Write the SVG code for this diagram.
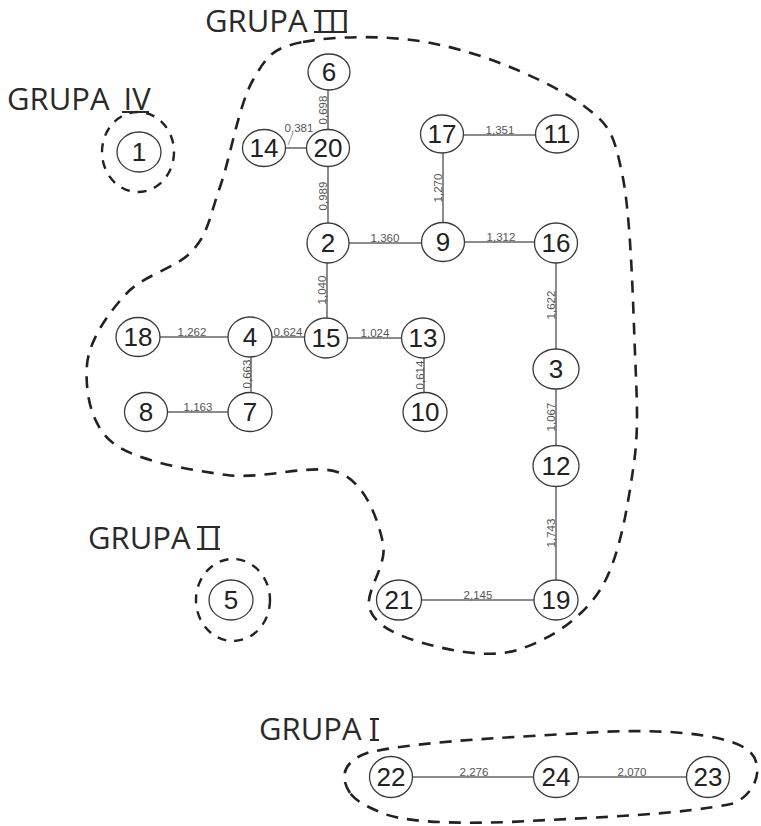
<svg xmlns="http://www.w3.org/2000/svg" width="761" height="826" viewBox="0 0 761 826">
<style>
.n ellipse{fill:#fff;stroke:#3a3a3a;stroke-width:1.3}
.n text{font-family:"Liberation Sans",Arial,sans-serif;font-size:26px;fill:#222;text-anchor:middle}
.e line{stroke:#666;stroke-width:1.5}
.e text{font-family:"Liberation Sans",Arial,sans-serif;font-size:11.5px;fill:#555;text-anchor:middle}
.g{fill:none;stroke:#222;stroke-width:2.6;stroke-dasharray:12 9}
.gs{fill:none;stroke:#222;stroke-width:2.4;stroke-dasharray:9 8}
.lbl{font-family:"Open Sans","DejaVu Sans",sans-serif;font-size:31px;fill:#2a2a2a}
.bar{stroke:#2a2a2a;stroke-width:2}
</style>
<rect width="761" height="826" fill="#fff"/>
<g id="groups">
<path class="g" d="M303,42 C334,36 394,34 440,45 C486,54 550,82 580,103 C610,125 613,131 622,173 C631,215 633,304 635,353 C637,403 639,431 633,470 C627,510 619,560 600,590 C581,620 547,641 517,650 C488,659 448,650 423,643 C399,636 377,627 370,610 C363,593 388,566 383,543 C378,520 366,484 340,473 C314,462 265,480 227,475 C189,470 136,461 113,443 C90,425 85,390 87,365 C89,340 109,312 127,293 C145,274 178,268 193,250 C209,232 210,215 220,187 C230,159 239,104 253,80 C267,56 272,48 303,42 Z"/>
<path class="g" d="M350,793 C338,775 345,760 370,752 C430,740 520,737 600,732 C660,729 720,733 745,748 C765,760 760,790 735,803 C680,815 600,817 510,822 C450,824 400,822 380,812 C365,806 355,800 350,793 Z"/>
<ellipse class="gs" cx="138" cy="152" rx="36" ry="40"/>
<ellipse class="gs" cx="233" cy="600" rx="37" ry="41"/>
</g>
<g id="labels">
<text class="lbl" x="205" y="32">GRUPA <tspan letter-spacing="4">III</tspan></text>
<line class="bar" x1="314" y1="11" x2="347" y2="11"/><line class="bar" x1="314" y1="32" x2="347" y2="32"/>
<text class="lbl" x="7" y="110">GRUPA <tspan dx="6">IV</tspan></text>
<line class="bar" x1="122" y1="112" x2="149" y2="112"/>
<text class="lbl" x="88" y="549">GRUPA <tspan letter-spacing="5">II</tspan></text>
<line class="bar" x1="197" y1="527" x2="220" y2="527"/><line class="bar" x1="197" y1="549" x2="220" y2="549"/>
<text class="lbl" x="259" y="740">GRUPA I</text>
<line class="bar" x1="370" y1="719" x2="379" y2="719"/><line class="bar" x1="370" y1="740" x2="379" y2="740"/>
</g>
<g id="connectors" class="e">
<line x1="328" y1="72" x2="328" y2="148"/><text transform="translate(327,110) rotate(-90)">0,698</text>
<line x1="264" y1="148" x2="328" y2="148" style="stroke-width:2.2;stroke:#888"/><text x="299" y="132">0,381</text>
<line x1="293" y1="133" x2="288" y2="145" style="stroke:#999;stroke-width:1"/>
<line x1="328" y1="148" x2="328" y2="243"/><text transform="translate(327,196) rotate(-90)">0,989</text>
<line x1="328" y1="243" x2="443" y2="243"/><text x="385" y="242">1,360</text>
<line x1="327" y1="243" x2="327" y2="338"/><text transform="translate(326,290) rotate(-90)">1,040</text>
<line x1="442" y1="135" x2="557" y2="135"/><text x="500" y="134">1,351</text>
<line x1="443" y1="135" x2="443" y2="242"/><text transform="translate(442,188) rotate(-90)">1,270</text>
<line x1="443" y1="242" x2="556" y2="242"/><text x="501" y="241">1,312</text>
<line x1="556" y1="243" x2="556" y2="369"/><text transform="translate(555,305) rotate(-90)">1,622</text>
<line x1="556" y1="369" x2="556" y2="466"/><text transform="translate(555,417) rotate(-90)">1,067</text>
<line x1="556" y1="466" x2="556" y2="600"/><text transform="translate(555,533) rotate(-90)">1,743</text>
<line x1="399" y1="600" x2="556" y2="600"/><text x="478" y="599">2,145</text>
<line x1="138" y1="337" x2="250" y2="337"/><text x="192" y="336">1,262</text>
<line x1="250" y1="337" x2="326" y2="337"/><text x="288" y="336">0,624</text>
<line x1="251" y1="337" x2="251" y2="412"/><text transform="translate(251,374) rotate(-90)">0,663</text>
<line x1="146" y1="412" x2="250" y2="412"/><text x="198" y="411">1,163</text>
<line x1="326" y1="338" x2="423" y2="338"/><text x="375" y="337">1,024</text>
<line x1="424" y1="338" x2="424" y2="412"/><text transform="translate(424,375) rotate(-90)">0,614</text>
<line x1="391" y1="777" x2="556" y2="777"/><text x="474" y="776">2,276</text>
<line x1="556" y1="777" x2="708" y2="777"/><text x="632" y="776">2,070</text>
</g>
<g id="nodes">
<g id="n6" class="n"><ellipse cx="329" cy="72" rx="21" ry="18"/><text x="329" y="81">6</text></g>
<g id="n20" class="n"><ellipse cx="328" cy="148" rx="21.5" ry="18.5"/><text x="328" y="157">20</text></g>
<g id="n14" class="n"><ellipse cx="264" cy="148" rx="21.5" ry="18.5"/><text x="264" y="157">14</text></g>
<g id="n17" class="n"><ellipse cx="442" cy="134" rx="21.5" ry="19"/><text x="442" y="143">17</text></g>
<g id="n11" class="n"><ellipse cx="557" cy="134" rx="21.5" ry="19"/><text x="557" y="143">11</text></g>
<g id="n2" class="n"><ellipse cx="328" cy="243" rx="21" ry="20"/><text x="328" y="252">2</text></g>
<g id="n9" class="n"><ellipse cx="443" cy="242" rx="21.5" ry="19.5"/><text x="443" y="251">9</text></g>
<g id="n16" class="n"><ellipse cx="556" cy="243" rx="21.5" ry="20"/><text x="556" y="252">16</text></g>
<g id="n18" class="n"><ellipse cx="138" cy="337" rx="22" ry="19.5"/><text x="138" y="346">18</text></g>
<g id="n4" class="n"><ellipse cx="250" cy="337" rx="22" ry="20"/><text x="250" y="346">4</text></g>
<g id="n15" class="n"><ellipse cx="326" cy="338" rx="21.5" ry="20"/><text x="326" y="347">15</text></g>
<g id="n13" class="n"><ellipse cx="423" cy="338" rx="21.5" ry="20"/><text x="423" y="347">13</text></g>
<g id="n10" class="n"><ellipse cx="425" cy="412" rx="22" ry="19.5"/><text x="425" y="421">10</text></g>
<g id="n8" class="n"><ellipse cx="146" cy="412" rx="21.5" ry="19.5"/><text x="146" y="421">8</text></g>
<g id="n7" class="n"><ellipse cx="250" cy="412" rx="22" ry="19.5"/><text x="250" y="421">7</text></g>
<g id="n3" class="n"><ellipse cx="556" cy="369" rx="23" ry="20"/><text x="556" y="378">3</text></g>
<g id="n12" class="n"><ellipse cx="556" cy="466" rx="23" ry="20.5"/><text x="556" y="475">12</text></g>
<g id="n19" class="n"><ellipse cx="556" cy="600" rx="22" ry="20"/><text x="556" y="609">19</text></g>
<g id="n21" class="n"><ellipse cx="399" cy="600" rx="22.5" ry="20"/><text x="399" y="609">21</text></g>
<g id="n1" class="n"><ellipse cx="139" cy="152" rx="22" ry="20"/><text x="139" y="161">1</text></g>
<g id="n5" class="n"><ellipse cx="231" cy="600" rx="22" ry="20"/><text x="231" y="609">5</text></g>
<g id="n22" class="n"><ellipse cx="391" cy="777" rx="21.5" ry="20.5"/><text x="391" y="786">22</text></g>
<g id="n24" class="n"><ellipse cx="556" cy="777" rx="22.5" ry="20.5"/><text x="556" y="786">24</text></g>
<g id="n23" class="n"><ellipse cx="708" cy="777" rx="21.5" ry="20.5"/><text x="708" y="786">23</text></g>
</g>
</svg>
